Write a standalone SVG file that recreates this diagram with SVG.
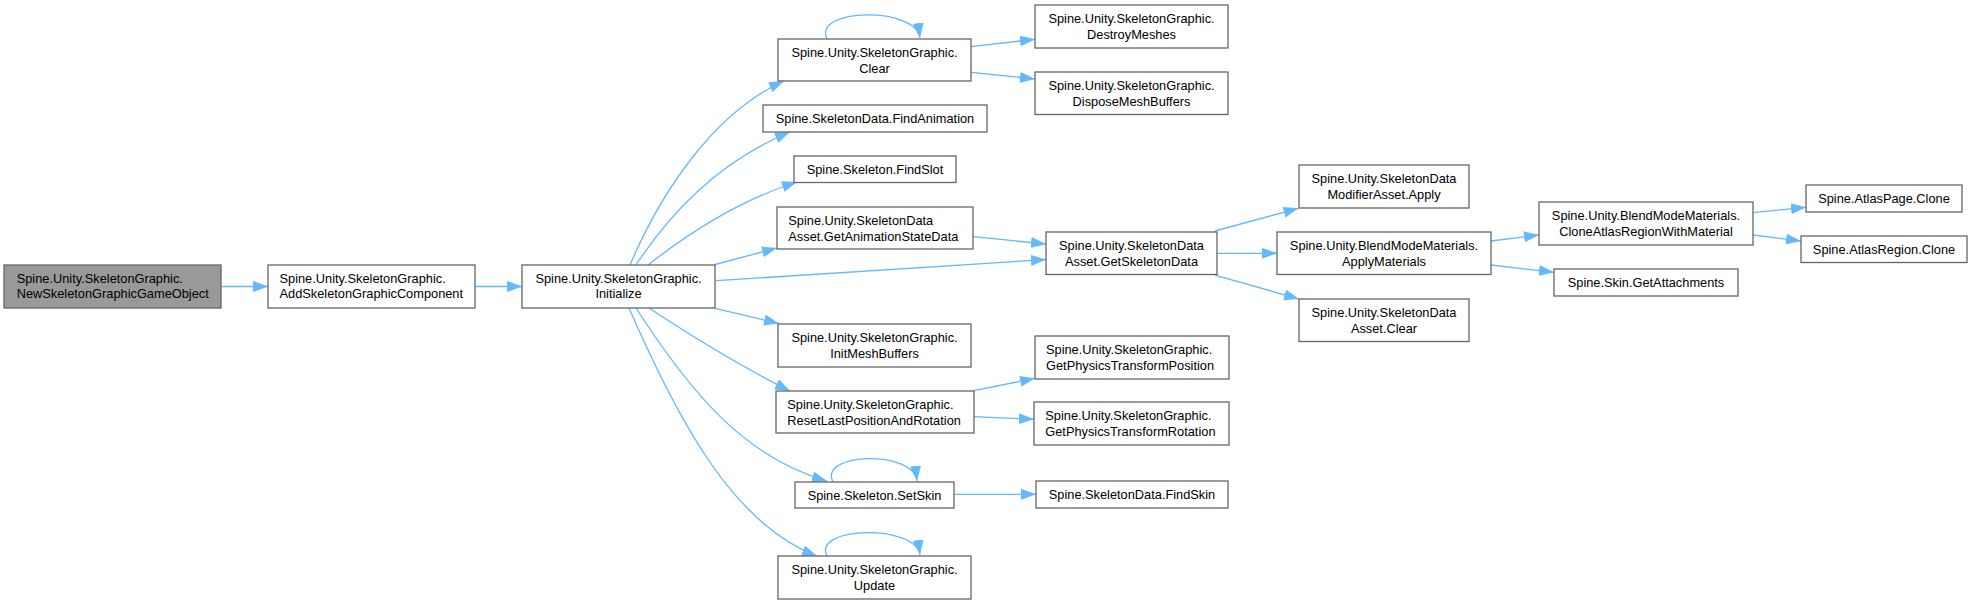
<svg xmlns="http://www.w3.org/2000/svg" width="1972" height="604" viewBox="0 0 1972 604">
<style>
  .node rect { fill: #ffffff; stroke: #666666; stroke-width: 1.3; }
  .node.root rect { fill: #999999; }
  .node text { font-family: "Liberation Sans", Arial, sans-serif; font-size: 12.8px; fill: #000000; }
  .c { text-anchor: middle; }
  .s { text-anchor: start; }
  .e { fill: none; stroke: #63B8FF; stroke-width: 1.3; marker-end: url(#ah); }
</style>
<defs>
  <marker id="ah" markerUnits="userSpaceOnUse" markerWidth="16" markerHeight="12" refX="15" refY="5.5" orient="auto">
    <path d="M0,0 L15,5.5 L0,11 z" fill="#63B8FF"/>
  </marker>
</defs>
<rect x="0" y="0" width="1972" height="604" fill="#ffffff"/>
<g id="edges">
  <path class="e" d="M221,286.5 L268,286.5"/>
  <path class="e" d="M475,286.5 L522,286.5"/>
  <path class="e" d="M630,265 C662,190 715,112 784,81"/>
  <path class="e" d="M636,265 C672,210 722,160 790,132"/>
  <path class="e" d="M648,265 C690,232 740,200 797,182"/>
  <path class="e" d="M715,264.5 L777,248"/>
  <path class="e" d="M716,280.7 L1046,259.5"/>
  <path class="e" d="M973,236.7 L1046,244"/>
  <path class="e" d="M715,308.3 L779,323.5"/>
  <path class="e" d="M649,308 C690,335 740,366 790,391"/>
  <path class="e" d="M636,308 C690,392 745,458 827,481"/>
  <path class="e" d="M629,308 C680,425 735,525 817,556"/>
  <path class="e" d="M971,46.7 L1035,39.3"/>
  <path class="e" d="M971,72.3 L1035,79"/>
  <path class="e" d="M827,39 C812,8 916,6 920,38"/>
  <path class="e" d="M833,482 C818,452 914,450 917,481"/>
  <path class="e" d="M827,556 C812,526 916,524 920,555"/>
  <path class="e" d="M974,390.7 L1035,378.3"/>
  <path class="e" d="M974,416.7 L1034,419.3"/>
  <path class="e" d="M954,494.3 L1036,494.3"/>
  <path class="e" d="M1215,231 L1298.5,208.3"/>
  <path class="e" d="M1217,253.3 L1277,253.3"/>
  <path class="e" d="M1215,275 L1299,299"/>
  <path class="e" d="M1491,241 L1539,235"/>
  <path class="e" d="M1491,265 L1554,272.3"/>
  <path class="e" d="M1753,212.7 L1806,207.3"/>
  <path class="e" d="M1753,235 L1801,241"/>
</g>
<g id="n1" class="node root"><rect x="4" y="265" width="217" height="43"/><text class="s" x="16.7" y="283.3">Spine.Unity.SkeletonGraphic.</text><text class="s" x="16.7" y="298.3">NewSkeletonGraphicGameObject</text></g>
<g id="n2" class="node"><rect x="268" y="265" width="207" height="43"/><text class="s" x="279.5" y="283.3">Spine.Unity.SkeletonGraphic.</text><text class="s" x="279.5" y="298.3">AddSkeletonGraphicComponent</text></g>
<g id="n3" class="node"><rect x="522" y="265" width="193" height="43"/><text class="c" x="618.5" y="283.3">Spine.Unity.SkeletonGraphic.</text><text class="c" x="618.5" y="298.3">Initialize</text></g>
<g id="n4" class="node"><rect x="778" y="39" width="193" height="42"/><text class="c" x="874.5" y="57.3">Spine.Unity.SkeletonGraphic.</text><text class="c" x="874.5" y="72.5">Clear</text></g>
<g id="n5" class="node"><rect x="763" y="105" width="224" height="27"/><text class="c" x="875" y="123.3">Spine.SkeletonData.FindAnimation</text></g>
<g id="n6" class="node"><rect x="794" y="156" width="162" height="26.5"/><text class="c" x="875" y="174">Spine.Skeleton.FindSlot</text></g>
<g id="n7" class="node"><rect x="777" y="207" width="196" height="42"/><text class="s" x="788.3" y="225.3">Spine.Unity.SkeletonData</text><text class="s" x="788.3" y="240.5">Asset.GetAnimationStateData</text></g>
<g id="n8" class="node"><rect x="778" y="324" width="193" height="43"/><text class="c" x="874.5" y="342.3">Spine.Unity.SkeletonGraphic.</text><text class="c" x="874.5" y="357.5">InitMeshBuffers</text></g>
<g id="n9" class="node"><rect x="776" y="391" width="198" height="42"/><text class="s" x="787.3" y="409.3">Spine.Unity.SkeletonGraphic.</text><text class="s" x="787.3" y="424.5">ResetLastPositionAndRotation</text></g>
<g id="n10" class="node"><rect x="795" y="482" width="159" height="26"/><text class="c" x="874.5" y="499.5">Spine.Skeleton.SetSkin</text></g>
<g id="n11" class="node"><rect x="778" y="556" width="193" height="43"/><text class="c" x="874.5" y="574.3">Spine.Unity.SkeletonGraphic.</text><text class="c" x="874.5" y="589.5">Update</text></g>
<g id="n12" class="node"><rect x="1035" y="5" width="193" height="43"/><text class="c" x="1131.5" y="23.3">Spine.Unity.SkeletonGraphic.</text><text class="c" x="1131.5" y="38.5">DestroyMeshes</text></g>
<g id="n13" class="node"><rect x="1035" y="72" width="193" height="42.5"/><text class="c" x="1131.5" y="90.3">Spine.Unity.SkeletonGraphic.</text><text class="c" x="1131.5" y="105.5">DisposeMeshBuffers</text></g>
<g id="n14" class="node"><rect x="1046" y="232" width="171" height="42.5"/><text class="c" x="1131.5" y="250.3">Spine.Unity.SkeletonData</text><text class="c" x="1131.5" y="265.5">Asset.GetSkeletonData</text></g>
<g id="n15" class="node"><rect x="1035" y="336" width="194" height="43"/><text class="s" x="1046" y="354.3">Spine.Unity.SkeletonGraphic.</text><text class="s" x="1046" y="369.5">GetPhysicsTransformPosition</text></g>
<g id="n16" class="node"><rect x="1034" y="402" width="195" height="43"/><text class="s" x="1045.3" y="420.3">Spine.Unity.SkeletonGraphic.</text><text class="s" x="1045.3" y="435.5">GetPhysicsTransformRotation</text></g>
<g id="n17" class="node"><rect x="1036" y="481" width="192" height="27"/><text class="c" x="1132" y="499.3">Spine.SkeletonData.FindSkin</text></g>
<g id="n18" class="node"><rect x="1299" y="165" width="170" height="43"/><text class="c" x="1384" y="183.3">Spine.Unity.SkeletonData</text><text class="c" x="1384" y="198.5">ModifierAsset.Apply</text></g>
<g id="n19" class="node"><rect x="1277" y="232" width="214" height="42.5"/><text class="c" x="1384" y="250.3">Spine.Unity.BlendModeMaterials.</text><text class="c" x="1384" y="265.5">ApplyMaterials</text></g>
<g id="n20" class="node"><rect x="1299" y="299" width="170" height="42.5"/><text class="c" x="1384" y="317.3">Spine.Unity.SkeletonData</text><text class="c" x="1384" y="332.5">Asset.Clear</text></g>
<g id="n21" class="node"><rect x="1539" y="202" width="214" height="43"/><text class="c" x="1646" y="220.3">Spine.Unity.BlendModeMaterials.</text><text class="c" x="1646" y="235.5">CloneAtlasRegionWithMaterial</text></g>
<g id="n22" class="node"><rect x="1554" y="269" width="184" height="27"/><text class="c" x="1646" y="287.3">Spine.Skin.GetAttachments</text></g>
<g id="n23" class="node"><rect x="1806" y="185" width="156" height="27"/><text class="c" x="1884" y="203.3">Spine.AtlasPage.Clone</text></g>
<g id="n24" class="node"><rect x="1801" y="236" width="166" height="26.5"/><text class="c" x="1884" y="254">Spine.AtlasRegion.Clone</text></g>
</svg>
